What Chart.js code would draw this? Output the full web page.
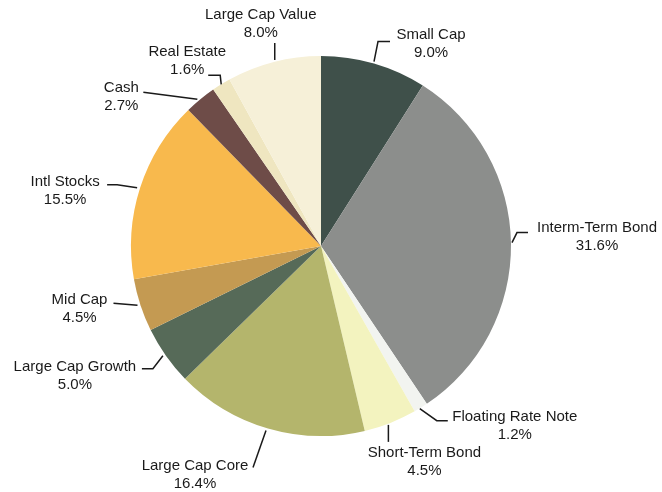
<!DOCTYPE html>
<html>
<head>
<meta charset="utf-8">
<script src="https://cdn.jsdelivr.net/npm/chart.js@4.4.0/dist/chart.umd.min.js"></script>
<style>
  html, body { margin: 0; padding: 0; background: #fff; }
  canvas { display: block; }
</style>
</head>
<body>
<canvas id="pie" width="662" height="492"></canvas>
<script>
// Allocation data, clockwise from 12 o'clock
const categories = ['Small Cap', 'Interm-Term Bond', 'Floating Rate Note', 'Short-Term Bond',
    'Large Cap Core', 'Large Cap Growth', 'Mid Cap', 'Intl Stocks', 'Cash', 'Real Estate', 'Large Cap Value'];
const percents = [9.0, 31.6, 1.2, 4.5, 16.4, 5.0, 4.5, 15.5, 2.7, 1.6, 8.0];

const sliceColors = ['#3f504a', '#8c8e8c', '#f2f4f0', '#f3f3bf', '#b4b56c', '#566a58',
    '#c49a52', '#f8b94d', '#6e4c48', '#efe6c0', '#f6f0d8'];

// Label placement relative to the slice's outer edge point:
// text = centre of first line, leader = polyline points
const labelLayout = [
    { text: [57, -29], leader: [[0, -2], [4, -22], [16, -22]] },
    { text: [86, -16], leader: [[1, -1], [6, -11], [17, -11]] },
    { text: [94, 9], leader: [[-1, 1], [16, 13], [27, 13]] },
    { text: [34, 30], leader: [[-2, 2], [-2, 19]] },
    { text: [-73, 37], leader: [[-2, 2], [-15, 39]] },
    { text: [-91, 11], leader: [[-3, 0], [-13, 13], [-24, 13]] },
    { text: [-61, -5], leader: [[-3, 0], [-27, -2]] },
    { text: [-75, -6], leader: [[-3, 0], [-23, -3], [-33, -3]] },
    { text: [-79, -11], leader: [[-3, 0], [-57, -7]] },
    { text: [-34, -32], leader: [[0, 0], [-1, -9], [-13, -9]] },
    { text: [-13, -47], leader: [[1, -2], [1, -19]] }
];

const calloutPlugin = {
    id: 'callouts',
    afterDatasetsDraw(chart) {
        const ctx = chart.ctx;
        const arcs = chart.getDatasetMeta(0).data;
        ctx.save();
        ctx.strokeStyle = '#1a1a1a';
        ctx.lineWidth = 1.5;
        ctx.fillStyle = '#1a1a1a';
        ctx.font = '15px "Liberation Sans", Arial, sans-serif';
        ctx.textAlign = 'center';
        ctx.textBaseline = 'middle';
        arcs.forEach((arc, i) => {
            const mid = (arc.startAngle + arc.endAngle) / 2;
            const ex = arc.x + Math.cos(mid) * arc.outerRadius;
            const ey = arc.y + Math.sin(mid) * arc.outerRadius;
            const lay = labelLayout[i];
            ctx.beginPath();
            lay.leader.forEach((p, k) => {
                if (k === 0) ctx.moveTo(ex + p[0], ey + p[1]);
                else ctx.lineTo(ex + p[0], ey + p[1]);
            });
            ctx.stroke();
            const tx = ex + lay.text[0];
            const ty = ey + lay.text[1];
            ctx.fillText(categories[i], tx, ty);
            ctx.fillText(percents[i].toFixed(1) + '%', tx, ty + 18);
        });
        ctx.restore();
    }
};

new Chart(document.getElementById('pie').getContext('2d'), {
    type: 'pie',
    data: {
        labels: categories,
        datasets: [{
            data: percents,
            backgroundColor: sliceColors,
            borderWidth: 0
        }]
    },
    options: {
        responsive: false,
        animation: false,
        layout: { padding: { left: 131, right: 151, top: 56, bottom: 56 } },
        plugins: {
            legend: { display: false },
            tooltip: { enabled: false }
        }
    },
    plugins: [calloutPlugin]
});
</script>
</body>
</html>
